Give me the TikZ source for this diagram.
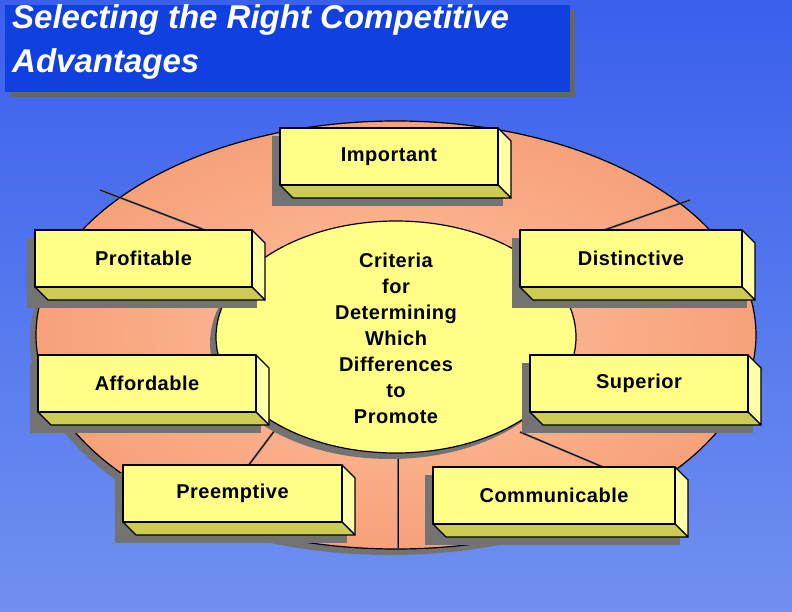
\documentclass[tikz,border=0pt]{standalone}
\usepackage{fontspec}
\setmainfont{Liberation Sans}
\newfontfamily\lblfont[LetterSpace=2.5]{Liberation Sans}
\begin{document}
\begin{tikzpicture}[x=1pt,y=-1pt,
  lbl/.style={font=\lblfont\bfseries\fontsize{20}{26}\selectfont,align=center,text=black},
  edge/.style={draw=black,line width=1.2pt,line join=round}]
\definecolor{bgtop}{HTML}{3A60EC}\definecolor{bgbot}{HTML}{7090F0}
\definecolor{salmon}{HTML}{F7A17A}\definecolor{salmonL}{HTML}{FFC0A0}
\definecolor{boxy}{HTML}{FFFF88}\definecolor{boxs}{HTML}{CCCC55}\definecolor{boxr}{HTML}{FFFFA8}
\definecolor{tblue}{HTML}{1040E0}
\useasboundingbox (0,0) rectangle (792,612);
\shade[top color=bgtop,bottom color=bgbot] (0,0) rectangle (792,612);
% title
\fill[black!60] (10,10) rectangle (575,97);
\fill[tblue] (5,5) rectangle (570,92);
\node[anchor=north west,align=left,text=white,inner sep=0pt,font=\bfseries\itshape\fontsize{33}{44}\selectfont] (title) at (12,4) {Selecting the Right Competitive\\Advantages};
% ellipses
\fill[black!55] (390,341) ellipse [x radius=360,y radius=214];
\shade[inner color=salmonL,outer color=salmon,draw=black,line width=1.2pt] (396,335) ellipse [x radius=360,y radius=214];
\foreach \a/\b in {{100,190}/{210,232},{690,200}/{590,235},{398,453}/{398,548},{520,432}/{610,470},{275,430}/{245,470}}{
  \draw[black!60,line width=2pt] (\a) -- (\b);
  \draw[black,line width=0.8pt] (\a) -- (\b);}
\fill[black!55] (390,343) ellipse [x radius=180,y radius=116];
\fill[boxy,draw=black,line width=1.2pt] (396,337) ellipse [x radius=180,y radius=116];
\node[lbl] (center) at (396,338) {Criteria\\for\\Determining\\Which\\Differences\\to\\Promote};
% boxes
\newcommand\mybox[6]{%
  \fill[black!55] (#1-8,#2+8) rectangle (#3-8+13,#4+8+13);
  \filldraw[edge,fill=boxr] (#3,#2) -- (#3+13,#2+13) -- (#3+13,#4+13) -- (#3,#4) -- cycle;
  \filldraw[edge,fill=boxs] (#1,#4) -- (#3,#4) -- (#3+13,#4+13) -- (#1+13,#4+13) -- cycle;
  \filldraw[edge,fill=boxy] (#1,#2) rectangle (#3,#4);
  \node[lbl] (#6) at ({(#1+#3)/2},{(#2+#4)/2}) {#5};}
\mybox{280}{128}{498}{185}{Important}{imp}
\mybox{35}{230}{252}{287}{Profitable}{pro}
\mybox{520}{230}{742}{287}{Distinctive}{dis}
\mybox{38}{355}{256}{412}{Affordable}{aff}
\mybox{530}{355}{748}{412}{Superior}{sup}
\mybox{123}{465}{342}{522}{Preemptive}{pre}
\mybox{433}{467}{675}{524}{Communicable}{com}
\end{tikzpicture}
\end{document}
